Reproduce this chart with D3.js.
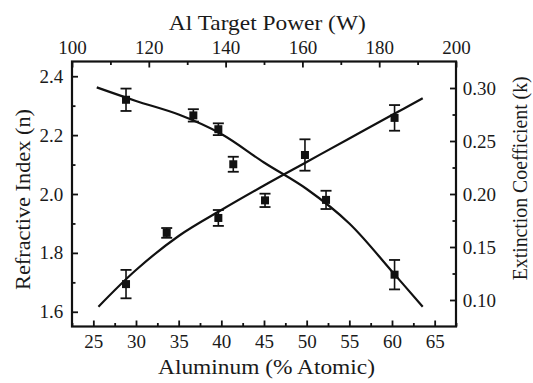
<!DOCTYPE html>
<html>
<head>
<meta charset="utf-8">
<script src="https://cdn.jsdelivr.net/npm/d3@7/dist/d3.min.js"></script>
<style>
  html, body { margin: 0; padding: 0; background: #fff; }
  svg { display: block; }
  text { font-family: 'Liberation Serif'; fill: #1a1a1a; }
</style>
</head>
<body>
<svg id="chart" width="533" height="383"></svg>
<script>
// Refractive index n (left axis): aluminum content (% atomic), measured values, error half-widths
const nX   = [28.83, 36.72, 39.65, 41.4, 52.27, 60.3];
const nVal = [2.320, 2.267, 2.220, 2.101, 1.980, 1.726];
const nErr = [0.038, 0.021, 0.020, 0.0255, 0.031, 0.050];

// Extinction coefficient k (right axis): aluminum content, measured values, error half-widths
const kX   = [28.83, 33.6, 39.65, 45.12, 49.8, 60.3];
const kVal = [0.115, 0.1633, 0.1774, 0.194, 0.2368, 0.2718];
const kErr = [0.0134, 0.0046, 0.0075, 0.0063, 0.0148, 0.0121];

// Fitted trend curves
const nFitX = [25.4, 30, 35, 40, 45, 50, 55, 60, 63.6];
const nFitY = [2.362, 2.316, 2.270, 2.204, 2.107, 2.017, 1.900, 1.737, 1.617];
const kFitX = [25.6, 30, 35, 40, 45, 50, 55, 60, 63.6];
const kFitY = [0.0937, 0.1283, 0.1604, 0.1849, 0.208, 0.2302, 0.2524, 0.2745, 0.2903];

// Axis ticks
const xTicks      = [25, 30, 35, 40, 45, 50, 55, 60, 65];
const xMinorTicks = [22.5, 27.5, 32.5, 37.5, 42.5, 47.5, 52.5, 57.5, 62.5, 67.5];
const topTicks      = [100, 120, 140, 160, 180, 200];
const topMinorTicks = [110, 130, 150, 170, 190];
const nTicks      = [1.6, 1.8, 2.0, 2.2, 2.4];
const nMinorTicks = [1.7, 1.9, 2.1, 2.3];
const kTicks      = [0.10, 0.15, 0.20, 0.25, 0.30];
const kMinorTicks = [0.125, 0.175, 0.225, 0.275];

// Axis titles
const xTitle = "Aluminum (% Atomic)";
const topTitle = "Al Target Power (W)";
const nTitle = "Refractive Index (n)";
const kTitle = "Extinction Coefficient (k)";

const FONT = "'Liberation Serif'";
const svg = d3.select("#chart");
const L = 72, R = 456, T = 61.5, B = 326.5;

const x    = d3.scaleLinear().domain([22.5, 67.5]).range([L, R]);
const xTop = d3.scaleLinear().domain([100, 200]).range([L, R]);
const yN   = d3.scaleLinear().domain([1.55, 2.45]).range([B, T]);
const yK   = d3.scaleLinear().domain([0.075, 0.325]).range([B, T]);

const tickFont = 19;

function styleAxis(g) {
  g.attr("font-family", null).attr("font-size", null);
  g.select(".domain").remove();
  g.selectAll(".tick line").attr("stroke", "#111").attr("stroke-width", 1.8);
  g.selectAll(".tick text")
    .style("font-size", tickFont + "px")
    .style("font-family", FONT)
    .attr("fill", "#1a1a1a");
}

// Bottom axis (ticks pointing inward)
svg.append("g").attr("transform", `translate(0,${B})`)
  .call(d3.axisBottom(x).tickValues(xTicks).tickSize(-6).tickPadding(8).tickFormat(d3.format("d")))
  .call(styleAxis);
svg.append("g").attr("transform", `translate(0,${B})`)
  .call(d3.axisBottom(x).tickValues(xMinorTicks).tickSize(-3.5).tickFormat(""))
  .call(styleAxis);

// Top axis
svg.append("g").attr("transform", `translate(0,${T})`)
  .call(d3.axisTop(xTop).tickValues(topTicks).tickSize(-6).tickPadding(7.5).tickFormat(d3.format("d")))
  .call(styleAxis);
svg.append("g").attr("transform", `translate(0,${T})`)
  .call(d3.axisTop(xTop).tickValues(topMinorTicks).tickSize(-3.5).tickFormat(""))
  .call(styleAxis);

// Left axis (n)
svg.append("g").attr("transform", `translate(${L},0)`)
  .call(d3.axisLeft(yN).tickValues(nTicks).tickSize(-6).tickPadding(8.7).tickFormat(d3.format(".1f")))
  .call(styleAxis);
svg.append("g").attr("transform", `translate(${L},0)`)
  .call(d3.axisLeft(yN).tickValues(nMinorTicks).tickSize(-3.5).tickFormat(""))
  .call(styleAxis);

// Right axis (k)
svg.append("g").attr("transform", `translate(${R},0)`)
  .call(d3.axisRight(yK).tickValues(kTicks).tickSize(-6).tickPadding(6.7).tickFormat(d3.format(".2f")))
  .call(styleAxis);
svg.append("g").attr("transform", `translate(${R},0)`)
  .call(d3.axisRight(yK).tickValues(kMinorTicks).tickSize(-3.5).tickFormat(""))
  .call(styleAxis);

// Plot frame
svg.append("rect")
  .attr("x", L).attr("y", T).attr("width", R - L).attr("height", B - T)
  .attr("fill", "none").attr("stroke", "#111").attr("stroke-width", 2.2);

// Fitted curves
const nLine = d3.line().x(d => x(d[0])).y(d => yN(d[1])).curve(d3.curveCatmullRom.alpha(0.5));
const kLine = d3.line().x(d => x(d[0])).y(d => yK(d[1])).curve(d3.curveCatmullRom.alpha(0.5));
svg.append("path").datum(d3.zip(nFitX, nFitY)).attr("d", nLine)
  .attr("fill", "none").attr("stroke", "#111").attr("stroke-width", 2.2);
svg.append("path").datum(d3.zip(kFitX, kFitY)).attr("d", kLine)
  .attr("fill", "none").attr("stroke", "#111").attr("stroke-width", 2.2);

// Data points with error bars
function drawSeries(xs, vals, errs, yScale) {
  const data = d3.zip(xs, vals, errs);
  const g = svg.append("g");
  const capW = 5.5;
  const pts = g.selectAll("g.pt").data(data).join("g").attr("class", "pt");
  pts.append("line")
    .attr("x1", d => x(d[0])).attr("x2", d => x(d[0]))
    .attr("y1", d => yScale(d[1] - d[2])).attr("y2", d => yScale(d[1] + d[2]))
    .attr("stroke", "#111").attr("stroke-width", 1.6);
  pts.append("line")
    .attr("x1", d => x(d[0]) - capW).attr("x2", d => x(d[0]) + capW)
    .attr("y1", d => yScale(d[1] + d[2])).attr("y2", d => yScale(d[1] + d[2]))
    .attr("stroke", "#111").attr("stroke-width", 1.8);
  pts.append("line")
    .attr("x1", d => x(d[0]) - capW).attr("x2", d => x(d[0]) + capW)
    .attr("y1", d => yScale(d[1] - d[2])).attr("y2", d => yScale(d[1] - d[2]))
    .attr("stroke", "#111").attr("stroke-width", 1.8);
  pts.append("rect")
    .attr("x", d => x(d[0]) - 4).attr("y", d => yScale(d[1]) - 4)
    .attr("width", 8).attr("height", 8).attr("fill", "#111");
}
drawSeries(nX, nVal, nErr, yN);
drawSeries(kX, kVal, kErr, yK);

// Axis titles
const titleFont = 21;
function title(txt, transform, len) {
  svg.append("text").text(txt)
    .attr("transform", transform)
    .attr("text-anchor", "middle")
    .attr("textLength", len).attr("lengthAdjust", "spacingAndGlyphs")
    .style("font-family", FONT)
    .style("font-size", titleFont + "px");
}
title(xTitle, "translate(266.5,374)", 217);
title(topTitle, "translate(267.3,29.5)", 197);
title(nTitle, "translate(30,199.5) rotate(-90)", 181);
title(kTitle, "translate(527,178.3) rotate(-90)", 204);
</script>
</body>
</html>
